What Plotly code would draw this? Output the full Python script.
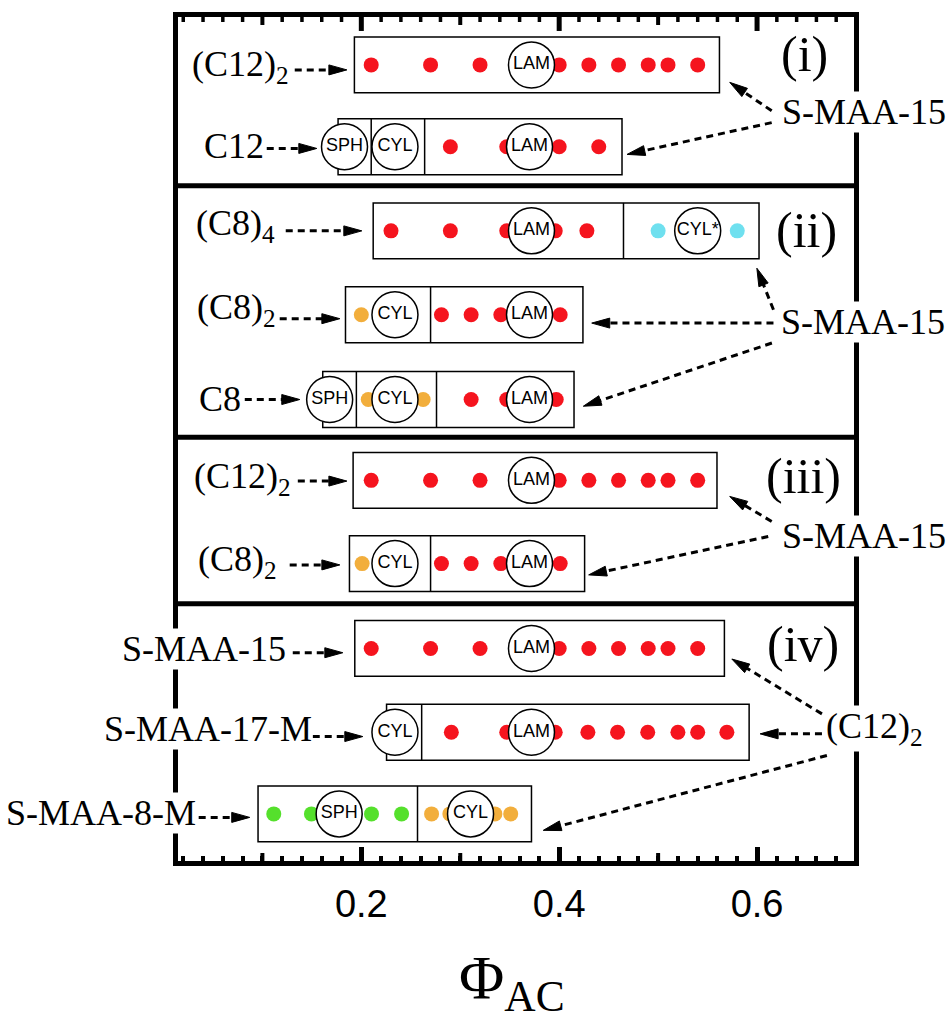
import math
import plotly.graph_objects as go

# ---------------- data ----------------
ROW_LABELS = ["(C12)<sub>2</sub>", "C12", "(C8)<sub>4</sub>", "(C8)<sub>2</sub>", "C8",
              "(C12)<sub>2</sub>", "(C8)<sub>2</sub>", "S-MAA-15", "S-MAA-17-M", "S-MAA-8-M"]
ROW_Y = [48, 130, 214.3, 298.3, 383.3, 464.3, 547.7, 632.7, 716.7, 798.5]
BOX_LEFT = [0.193, 0.1765, 0.212, 0.184, 0.161, 0.1917, 0.188, 0.1934, 0.2255, 0.0956]
BOX_RIGHT = [0.562, 0.4635, 0.602, 0.424, 0.415, 0.5595, 0.4257, 0.567, 0.592, 0.372]
DIVIDERS = [[], [0.210, 0.264], [0.465], [0.270], [0.195, 0.276],
            [], [0.270], [], [0.261], [0.2568]]

RED_X = [
    [0.21, 0.27, 0.32, 0.40, 0.43, 0.46, 0.49, 0.51, 0.54],
    [0.29, 0.347, 0.40, 0.44],
    [0.23, 0.29, 0.347, 0.396, 0.428],
    [0.281, 0.311, 0.341, 0.401],
    [0.311, 0.347, 0.397],
    [0.21, 0.27, 0.32, 0.40, 0.43, 0.46, 0.49, 0.51, 0.54],
    [0.281, 0.311, 0.341, 0.401],
    [0.21, 0.27, 0.32, 0.40, 0.43, 0.46, 0.49, 0.51, 0.54],
    [0.291, 0.347, 0.396, 0.429, 0.459, 0.4895, 0.52, 0.54, 0.5695],
    [],
]
ORANGE_X = [[], [], [], [0.200], [0.207, 0.2625], [], [0.2008], [], [],
            [0.271, 0.2895, 0.335, 0.351]]
CYAN_X = [[], [], [0.50, 0.58], [], [], [], [], [], [], []]
GREEN_X = [[], [], [], [], [], [], [], [], [], [0.1115, 0.1496, 0.2103, 0.2407]]

PHASE_X = [[0.372], [0.183, 0.234, 0.370], [0.372, 0.540], [0.234, 0.370],
           [0.168, 0.234, 0.370], [0.372], [0.234, 0.370], [0.372],
           [0.234, 0.372], [0.1776, 0.3104]]
PHASE_NAME = [["LAM"], ["SPH", "CYL", "LAM"], ["LAM", "CYL*"], ["CYL", "LAM"],
              ["SPH", "CYL", "LAM"], ["LAM"], ["CYL", "LAM"], ["LAM"],
              ["CYL", "LAM"], ["SPH", "CYL"]]

SEPARATOR_Y = [169, 421, 588]
PANEL_LABELS = ["(i)", "(ii)", "(iii)", "(iv)"]
PANEL_LABEL_POS = [(0.6476, 37), (0.650, 213), (0.6466, 460), (0.6466, 628)]

# left labels: (x of text end, y centre)
LEFT_LABEL_POS = [(0.1277, 50), (0.1024, 129), (0.1135, 209), (0.1145, 293.5),
                  (0.0791, 382.5), (0.1297, 462.5), (0.1155, 545.5), (0.1246, 633),
                  (0.1509, 713), (0.0336, 798)]
LEFT_ARROWS = [(0.1327, 53, 0.1854, 53), (0.1044, 131.7, 0.155, 131.7),
               (0.1236, 214.3, 0.2005, 214.3), (0.1175, 302.3, 0.1783, 302.3),
               (0.0822, 383.3, 0.1378, 383.3), (0.1358, 465, 0.1854, 465),
               (0.1276, 549, 0.1783, 549), (0.1307, 637, 0.1813, 637),
               (0.1509, 721, 0.2015, 721), (0.0356, 802, 0.0872, 802)]

RIGHT_LABELS = ["S-MAA-15", "S-MAA-15", "S-MAA-15", "(C12)<sub>2</sub>"]
RIGHT_LABEL_POS = [(0.6243, 95), (0.6233, 305.8), (0.6243, 519.7), (0.6689, 712.7)]
RIGHT_ARROWS = [
    (0.6148, 94, 0.5724, 65.5), (0.6148, 105.8, 0.4686, 137.7),
    (0.6166, 293.3, 0.5998, 251.7), (0.6166, 306.7, 0.4329, 306.7),
    (0.615, 326.7, 0.4244, 390),
    (0.6148, 505.5, 0.5724, 480.4), (0.6113, 520.6, 0.4298, 559),
    (0.6656, 698.3, 0.5745, 643.3), (0.6656, 718.3, 0.6031, 718.3),
    (0.6706, 740, 0.3839, 815),
]

X_TICKS = [0.2, 0.4, 0.6]
X_MID_TICKS = [0.1, 0.3, 0.5]
X_MINOR_TICKS = [round(0.02 * k, 2) for k in range(1, 35)]

COLORS = {"red": "#f5141e", "orange": "#f2ae3c", "cyan": "#6fe0ef", "green": "#55e02c"}

# ---------------- layout constants ----------------
W, H = 950, 1024
ML, MR, MT, MB = 178, 96, 15, 163
X_RANGE = [0.0147, 0.698]
Y_RANGE = [845.7, 0]
PLOT_W, PLOT_H = W - ML - MR, H - MT - MB
SX = PLOT_W / (X_RANGE[1] - X_RANGE[0])
SY = PLOT_H / (Y_RANGE[0] - Y_RANGE[1])

SERIF = "Liberation Serif, Times New Roman, serif"
SANS = "Liberation Sans, Arial, sans-serif"
BOX_HALF = 28

fig = go.Figure()

# tick marks along the top edge and medium ticks along the bottom edge
y_top, y_bot = Y_RANGE[1], Y_RANGE[0]
tick_groups = {
    "major": (X_TICKS, 14, 5),
    "mid": (X_MID_TICKS, 8, 4),
    "minor": ([v for v in X_MINOR_TICKS if v not in X_TICKS and v not in X_MID_TICKS], 5, 3.5),
}
for name, (vals, ln, wd) in tick_groups.items():
    tx, ty = [], []
    for v in vals:
        tx += [v, v, None]
        ty += [y_top - 3, y_top + ln / SY, None]
        if name == "mid":
            tx += [v, v, None]
            ty += [y_bot + 3, y_bot - ln / SY, None]
    fig.add_trace(go.Scatter(x=tx, y=ty, mode="lines", cliponaxis=False,
                             line=dict(color="#000000", width=wd),
                             showlegend=False, hoverinfo="skip"))

# dots
for cname, arr in [("red", RED_X), ("orange", ORANGE_X), ("cyan", CYAN_X), ("green", GREEN_X)]:
    xs, ys = [], []
    for i, row in enumerate(arr):
        xs += row
        ys += [ROW_Y[i]] * len(row)
    fig.add_trace(go.Scatter(x=xs, y=ys, mode="markers",
                             marker=dict(size=15, color=COLORS[cname], line=dict(width=0)),
                             showlegend=False, hoverinfo="skip", cliponaxis=False))

# phase circles
px_, py_, pt_ = [], [], []
for i, row in enumerate(PHASE_X):
    px_ += row
    py_ += [ROW_Y[i]] * len(row)
    pt_ += PHASE_NAME[i]
fig.add_trace(go.Scatter(x=px_, y=py_, mode="markers+text", text=pt_,
                         textposition="middle center",
                         textfont=dict(family=SANS, size=18, color="black"),
                         marker=dict(size=46, color="white", line=dict(color="black", width=1.5)),
                         showlegend=False, hoverinfo="skip", cliponaxis=False))

shapes = []
for i, y in enumerate(ROW_Y):
    shapes.append(dict(type="rect", xref="x", yref="y", x0=BOX_LEFT[i], x1=BOX_RIGHT[i],
                       y0=y - BOX_HALF, y1=y + BOX_HALF, line=dict(color="black", width=1.5),
                       layer="below"))
    for d in DIVIDERS[i]:
        shapes.append(dict(type="line", xref="x", yref="y", x0=d, x1=d,
                           y0=y - BOX_HALF, y1=y + BOX_HALF,
                           line=dict(color="black", width=1.5), layer="below"))
for y in SEPARATOR_Y:
    shapes.append(dict(type="line", xref="paper", yref="y", x0=0, x1=1, y0=y, y1=y,
                       line=dict(color="black", width=5)))


def arrow(x0, y0, x1, y1):
    dxp, dyp = (x1 - x0) * SX, (y1 - y0) * SY
    L = math.hypot(dxp, dyp)
    ux, uy = dxp / L, dyp / L
    hl, hw = 18, 5
    bx, by = x1 - ux * hl / SX, y1 - uy * hl / SY
    p1 = (bx - uy * hw / SX, by + ux * hw / SY)
    p2 = (bx + uy * hw / SX, by - ux * hw / SY)
    ex, ey = x1 - ux * (hl - 4) / SX, y1 - uy * (hl - 4) / SY
    out = [dict(type="line", xref="x", yref="y", x0=x0, y0=y0, x1=ex, y1=ey,
                line=dict(color="black", width=3, dash="7px,5px"))]
    out.append(dict(type="path", xref="x", yref="y",
                    path=f"M{x1},{y1} L{p1[0]},{p1[1]} L{p2[0]},{p2[1]} Z",
                    fillcolor="black", line=dict(color="black", width=1)))
    return out


for a in LEFT_ARROWS + RIGHT_ARROWS:
    shapes += arrow(*a)

annotations = []
for i, (x, y) in enumerate(LEFT_LABEL_POS):
    annotations.append(dict(x=x, y=y, xref="x", yref="y", text=ROW_LABELS[i],
                            showarrow=False, xanchor="right", yanchor="middle",
                            font=dict(family=SERIF, size=36, color="black"),
                            bgcolor="white", borderpad=0))
for i, (x, y) in enumerate(RIGHT_LABEL_POS):
    annotations.append(dict(x=x, y=y, xref="x", yref="y", text=RIGHT_LABELS[i],
                            showarrow=False, xanchor="left", yanchor="middle",
                            font=dict(family=SERIF, size=36, color="black"),
                            bgcolor="white", borderpad=0))
for i, (x, y) in enumerate(PANEL_LABEL_POS):
    annotations.append(dict(x=x, y=y, xref="x", yref="y", text=PANEL_LABELS[i],
                            showarrow=False, xanchor="center", yanchor="middle",
                            font=dict(family=SERIF, size=50, color="black")))
annotations.append(dict(x=0.494, y=-0.143, xref="paper", yref="paper",
                        text="Φ<sub>AC</sub>", showarrow=False,
                        xanchor="center", yanchor="middle",
                        font=dict(family=SERIF, size=62, color="black")))

fig.update_layout(
    width=W, height=H, margin=dict(l=ML, r=MR, t=MT, b=MB),
    paper_bgcolor="white", plot_bgcolor="white",
    shapes=shapes, annotations=annotations,
    xaxis=dict(range=X_RANGE, showline=True, linewidth=5, linecolor="black",
               mirror=True, ticks="inside", tickvals=X_TICKS,
               ticktext=[f"{v:.1f}" for v in X_TICKS], ticklen=14, tickwidth=5,
               tickcolor="black", showgrid=False, zeroline=False,
               tickfont=dict(family=SANS, size=38, color="black"),
               ticklabelstandoff=5,
               minor=dict(dtick=0.02, tick0=0, ticks="inside", ticklen=5,
                          tickwidth=3.5, tickcolor="black", showgrid=False)),
    yaxis=dict(range=Y_RANGE, showline=True, linewidth=5, linecolor="black",
               mirror=True, ticks="", showticklabels=False, showgrid=False,
               zeroline=False),
)

fig.write_html("out.html", config={"displayModeBar": False},
               post_script="document.body.style.margin='0';document.body.style.padding='0';")
